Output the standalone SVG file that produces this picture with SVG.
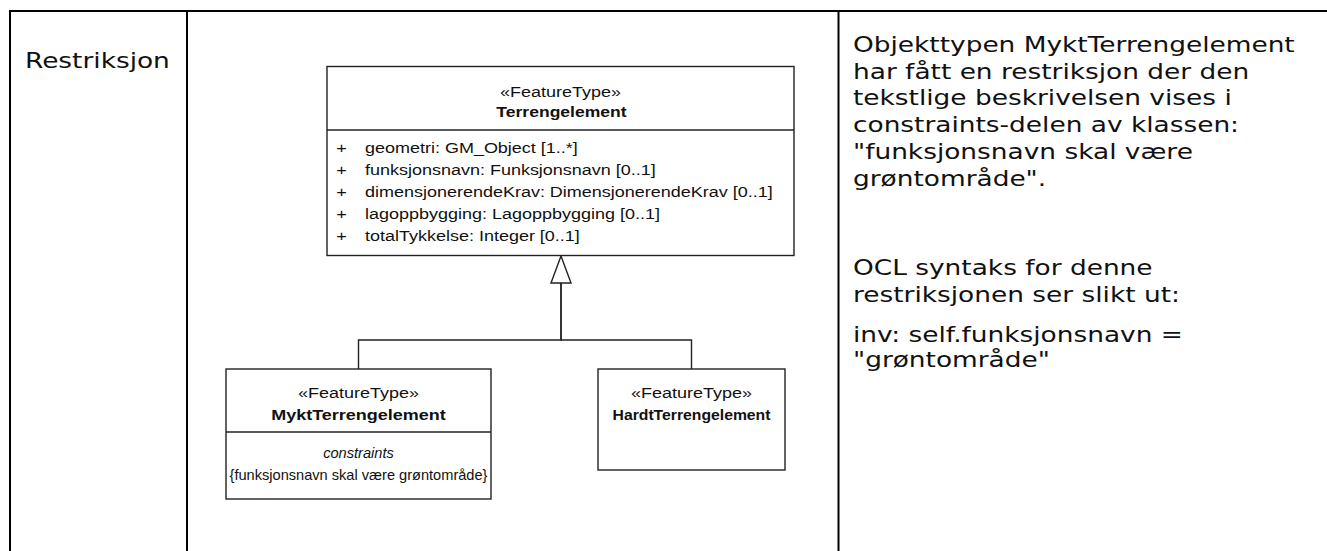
<svg xmlns="http://www.w3.org/2000/svg" width="1327" height="551" viewBox="0 0 1327 551">
  <style>
    .grid { stroke: #000; stroke-width: 2; fill: none; }
    .box { fill: #fff; stroke: #222; stroke-width: 1.4; }
    .sep { stroke: #222; stroke-width: 1.4; }
    .edge { fill: none; stroke: #222; stroke-width: 1.4; }
    .prose { font-family: "DejaVu Sans", Verdana, sans-serif; font-size: 22px; fill: #111; }
    .uml { font-family: "Liberation Sans", Arial, sans-serif; font-size: 15px; fill: #111; }
    .cons { font-family: "Liberation Sans", Arial, sans-serif; font-size: 14.6px; fill: #111; }
    .c { text-anchor: middle; }
    .b { font-weight: bold; }
    .i { font-style: italic; }
  </style>

  <!-- table grid -->
  <g id="table">
    <line class="grid" x1="9" y1="11" x2="1327" y2="11"/>
    <line class="grid" x1="10" y1="10" x2="10" y2="551"/>
    <line class="grid" x1="187" y1="10" x2="187" y2="551"/>
    <line class="grid" x1="838.5" y1="10" x2="838.5" y2="551"/>
  </g>

  <!-- left cell -->
  <g id="label">
    <text class="prose" transform="translate(25 68) scale(1.2 1)">Restriksjon</text>
  </g>

  <!-- generalization connectors with a shared hollow triangle -->
  <g id="connectors">
    <path class="edge" d="M358.5 369 V340 H561 V283"/>
    <path class="edge" d="M691.5 369 V340 H561 V283"/>
    <polygon class="box" points="561,256 551,283 571,283"/>
  </g>

  <!-- Terrengelement -->
  <g id="terrengelement">
    <rect class="box" x="327" y="66.5" width="467" height="189"/>
    <line class="sep" x1="327" y1="130" x2="794" y2="130"/>
    <text class="uml c" transform="translate(560.5 97) scale(1.2 1)">«FeatureType»</text>
    <text class="uml c b" transform="translate(561.5 117) scale(1.17 1)">Terrengelement</text>
    <g class="uml">
      <text class="c" transform="translate(341.5 153) scale(1.2 1)">+</text>
      <text transform="translate(365 153) scale(1.2 1)">geometri: GM_Object [1..*]</text>
      <text class="c" transform="translate(341.5 175) scale(1.2 1)">+</text>
      <text transform="translate(365 175) scale(1.2 1)">funksjonsnavn: Funksjonsnavn [0..1]</text>
      <text class="c" transform="translate(341.5 197) scale(1.2 1)">+</text>
      <text transform="translate(365 197) scale(1.2 1)">dimensjonerendeKrav: DimensjonerendeKrav [0..1]</text>
      <text class="c" transform="translate(341.5 219) scale(1.2 1)">+</text>
      <text transform="translate(365 219) scale(1.2 1)">lagoppbygging: Lagoppbygging [0..1]</text>
      <text class="c" transform="translate(341.5 241) scale(1.2 1)">+</text>
      <text transform="translate(365 241) scale(1.2 1)">totalTykkelse: Integer [0..1]</text>
    </g>
  </g>

  <!-- MyktTerrengelement -->
  <g id="mykt-terrengelement">
    <rect class="box" x="226" y="369" width="265" height="130"/>
    <line class="sep" x1="226" y1="432" x2="491" y2="432"/>
    <text class="uml c" transform="translate(358.5 398) scale(1.2 1)">«FeatureType»</text>
    <text class="uml c b" transform="translate(358.5 420) scale(1.2 1)">MyktTerrengelement</text>
    <text class="cons c i" x="358.5" y="458">constraints</text>
    <text class="cons c" x="358.5" y="480">{funksjonsnavn skal være grøntområde}</text>
  </g>

  <!-- HardtTerrengelement -->
  <g id="hardt-terrengelement">
    <rect class="box" x="598" y="369" width="187" height="101"/>
    <text class="uml c" transform="translate(691.5 398) scale(1.2 1)">«FeatureType»</text>
    <text class="uml c b" transform="translate(691.5 420) scale(1.05 1)">HardtTerrengelement</text>
  </g>

  <!-- right cell -->
  <g id="description" class="prose">
    <text transform="translate(853 52) scale(1.2 1)">Objekttypen MyktTerrengelement</text>
    <text transform="translate(853 78.7) scale(1.2 1)">har fått en restriksjon der den</text>
    <text transform="translate(853 105.4) scale(1.2 1)">tekstlige beskrivelsen vises i</text>
    <text transform="translate(853 132.1) scale(1.2 1)">constraints-delen av klassen:</text>
    <text transform="translate(853 158.8) scale(1.2 1)">"funksjonsnavn skal være</text>
    <text transform="translate(853 185.5) scale(1.2 1)">grøntområde".</text>
    <text transform="translate(853 275) scale(1.2 1)">OCL syntaks for denne</text>
    <text transform="translate(853 301.7) scale(1.2 1)">restriksjonen ser slikt ut:</text>
    <text transform="translate(853 342) scale(1.2 1)">inv: self.funksjonsnavn =</text>
    <text transform="translate(853 367) scale(1.2 1)">"grøntområde"</text>
  </g>
</svg>
